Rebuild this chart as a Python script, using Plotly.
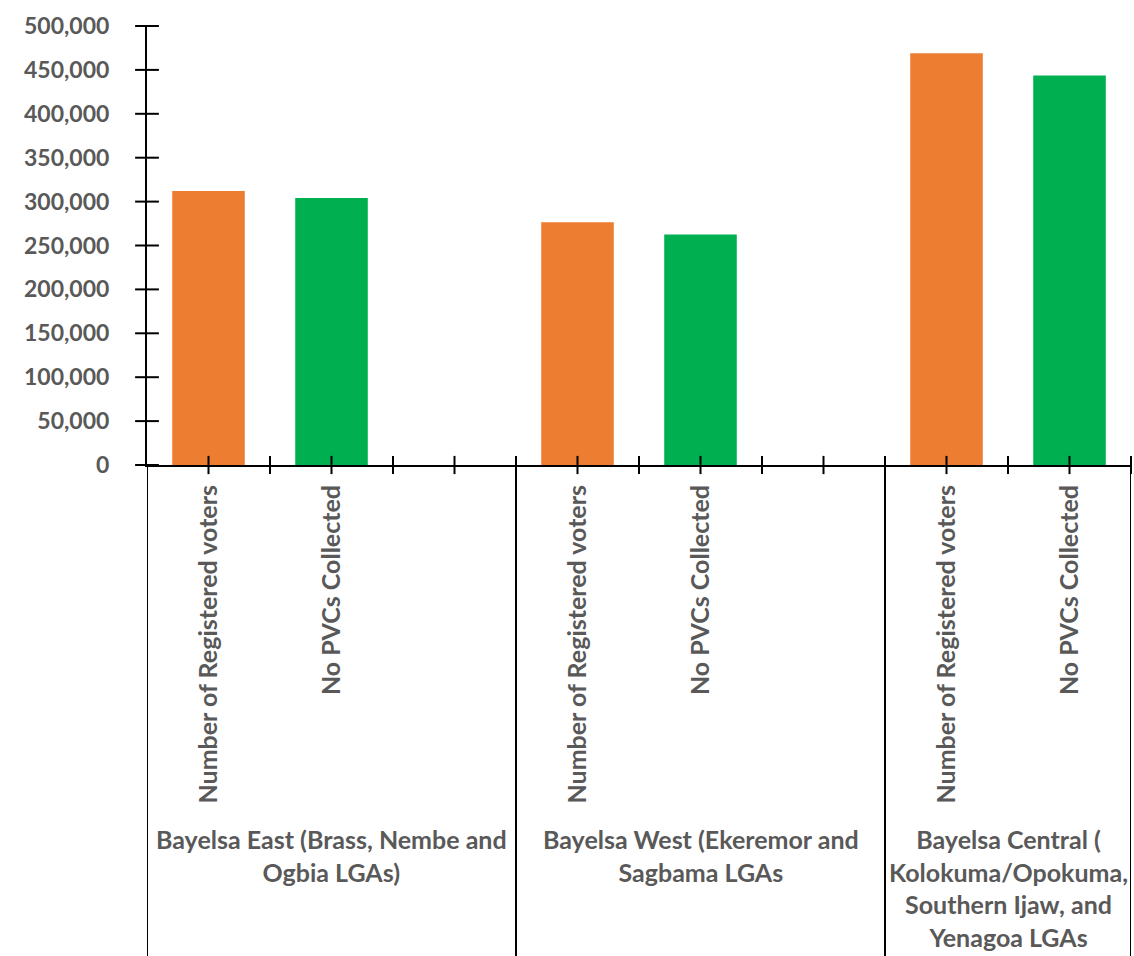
import numpy as np
import plotly.graph_objects as go

# ---- data ----
groups = [
    "Bayelsa East (Brass, Nembe and<br>Ogbia LGAs)",
    "Bayelsa West (Ekeremor and<br>Sagbama LGAs",
    "Bayelsa Central (<br>Kolokuma/Opokuma,<br>Southern Ijaw, and<br>Yenagoa LGAs",
]
group_slots = [3, 3, 2]  # category slots per group (incl. empty ones)
series_names = ["Number of Registered voters", "No PVCs Collected"]
registered = [312000, 276500, 469000]
pvcs_collected = [304000, 262500, 443500]
y_ticks = list(range(0, 500001, 50000))

# ---- derived positions ----
starts = np.concatenate([[0], np.cumsum(group_slots)[:-1]])
total = int(sum(group_slots))
reg_x = [int(s) for s in starts]
pvc_x = [int(s) + 1 for s in starts]
boundaries = [-0.5] + [float(b) - 0.5 for b in np.cumsum(group_slots)]
group_centers = [(boundaries[i] + boundaries[i + 1]) / 2 for i in range(len(groups))]

tick_pos = [i * 0.5 for i in range(0, 2 * total)]  # 0 .. total-0.5
tick_text = []
for t in tick_pos:
    if t in reg_x:
        tick_text.append(series_names[0])
    elif t in pvc_x:
        tick_text.append(series_names[1])
    else:
        tick_text.append("")

TXT = "#595959"
FONT = "Lato"
ORANGE = "#ED7D31"
GREEN = "#00B050"

fig = go.Figure()
fig.add_trace(go.Bar(x=reg_x, y=registered, width=0.59, marker=dict(color=ORANGE, line=dict(width=0)),
                     name=series_names[0], showlegend=False))
fig.add_trace(go.Bar(x=pvc_x, y=pvcs_collected, width=0.59, marker=dict(color=GREEN, line=dict(width=0)),
                     name=series_names[1], showlegend=False))

# cross tick marks on x axis
fig.add_trace(go.Scatter(x=tick_pos, y=[0] * len(tick_pos), mode="markers",
                         marker=dict(symbol="line-ns", size=13, line=dict(color="black", width=2)),
                         cliponaxis=False, showlegend=False, hoverinfo="skip"))
# cross tick marks on y axis
fig.add_trace(go.Scatter(x=[-0.5] * len(y_ticks), y=y_ticks, mode="markers",
                         marker=dict(symbol="line-ew", size=17, line=dict(color="black", width=2)),
                         cliponaxis=False, showlegend=False, hoverinfo="skip"))

W, H = 1134, 956
ml, mr, mt, mb = 147, 3, 26, 491
plot_h = H - mt - mb
bottom_paper = -(H - mt - plot_h) / plot_h

for b in boundaries:
    fig.add_shape(type="line", xref="x", yref="paper", x0=b, x1=b, y0=0, y1=bottom_paper,
                  line=dict(color="black", width=2), layer="above")

for gname, gc in zip(groups, group_centers):
    fig.add_annotation(x=gc, xref="x", y=-(822 - (mt + plot_h)) / plot_h, yref="paper",
                       yanchor="top", xanchor="center", text=gname, showarrow=False,
                       align="center",
                       font=dict(family=FONT, size=25, color=TXT, weight="bold"))

fig.update_layout(
    width=W, height=H,
    margin=dict(l=ml, r=mr, t=mt, b=mb, pad=0),
    paper_bgcolor="white", plot_bgcolor="white",
    barmode="overlay",
    xaxis=dict(range=[-0.5, total - 0.5], tickmode="array", tickvals=tick_pos, ticktext=tick_text,
               tickangle=-90, ticks="", showgrid=False, zeroline=False,
               showline=True, linecolor="black", linewidth=2,
               ticklabelstandoff=8,
               tickfont=dict(family=FONT, size=25, color=TXT, weight="bold")),
    yaxis=dict(range=[0, 500000], tickmode="array", tickvals=y_ticks,
               ticktext=[f"{v:,}" for v in y_ticks], ticks="", showgrid=False, zeroline=False,
               showline=True, linecolor="black", linewidth=2,
               ticklabelstandoff=31,
               tickfont=dict(family=FONT, size=23, color=TXT, weight="bold")),
)

fig.write_html("out.html")
